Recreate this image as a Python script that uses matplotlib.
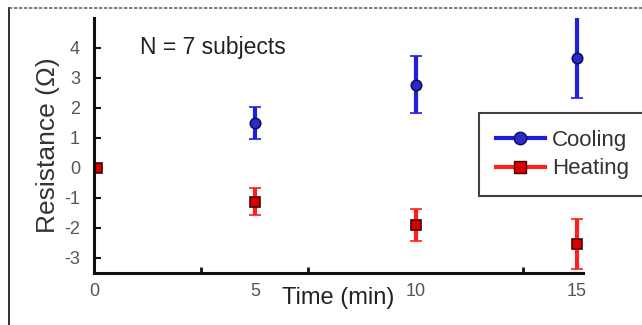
import numpy as np
import matplotlib
matplotlib.use("Agg")
import matplotlib.pyplot as plt
from matplotlib.lines import Line2D

plt.rcParams["font.family"] = ["Liberation Sans", "DejaVu Sans"]
plt.rcParams["axes.unicode_minus"] = False

# values
time_cool = [5, 10, 15]
cool_mean = [1.5, 2.77, 3.68]
cool_err = [0.53, 0.95, 1.35]

time_heat = [0.1, 5, 10, 15]
heat_mean = [0.0, -1.12, -1.9, -2.53]
heat_err = [0.0, 0.45, 0.53, 0.83]

xtick_pos = [0, 5, 10, 15]
xtick_labels = ["0", "5", "10", "15"]
xminor_pos = [10 / 3, 20 / 3, 10, 40 / 3]
ytick_pos = [-3, -2, -1, 0, 1, 2, 3, 4]

blue_bar, blue_face, blue_edge = "#1f1fe0", "#2b2bc8", "#10105a"
red_bar, red_face, red_edge = "#ff1f1f", "#d80000", "#4a0000"

fig = plt.figure(figsize=(6.42, 3.25), dpi=100)
ax = fig.add_axes([94 / 642, 1 - 273 / 325, 489 / 642, 255 / 325])

ax.errorbar(time_cool, cool_mean, yerr=cool_err, fmt="o", color=blue_bar,
            ecolor=blue_bar, elinewidth=3, capsize=4, capthick=2.5,
            markersize=7.5, markerfacecolor=blue_face, markeredgecolor=blue_edge,
            markeredgewidth=1.2, zorder=3)
ax.errorbar(time_heat, heat_mean, yerr=heat_err, fmt="s", color=red_bar,
            ecolor=red_bar, elinewidth=3, capsize=4, capthick=2.5,
            markersize=7.5, markerfacecolor=red_face, markeredgecolor=red_edge,
            markeredgewidth=1.2, zorder=3)

ax.set_xlim(0, 15.2)
ax.set_ylim(-3.5, 5.0)

for side in ["top", "right"]:
    ax.spines[side].set_visible(False)
for side in ["left", "bottom"]:
    ax.spines[side].set_linewidth(2.2)
    ax.spines[side].set_color("#111111")
    ax.spines[side].set_zorder(4)

ax.set_xticks(xtick_pos)
ax.set_xticklabels(xtick_labels)
ax.set_xticks(xminor_pos, minor=True)
ax.tick_params(axis="x", which="major", length=0, pad=7, labelsize=13,
               labelcolor="#555555")
ax.tick_params(axis="x", which="minor", direction="in", length=4, width=2,
               color="#111111")
ax.set_yticks(ytick_pos)
ax.tick_params(axis="y", direction="in", length=5, width=1.5, pad=10,
               labelsize=13, labelcolor="#555555", color="#111111")

ax.set_xlabel("Time (min)", fontsize=17, color="#222222", labelpad=-9)
ax.set_ylabel("Resistance (\u03a9)", fontsize=19, color="#333333", labelpad=3)

ax.text(1.43, 4.03, "N = 7 subjects", fontsize=16.5, color="#222222",
        va="center", ha="left")

handles = [
    Line2D([], [], color=blue_bar, lw=3, marker="o", markersize=9,
           markerfacecolor=blue_face, markeredgecolor=blue_edge),
    Line2D([], [], color=red_bar, lw=3, marker="s", markersize=9,
           markerfacecolor=red_face, markeredgecolor=red_edge),
]
leg = fig.legend(handles, ["Cooling", "Heating"], loc="upper left",
                 bbox_to_anchor=(479 / 642, 1 - 113 / 325), fontsize=16,
                 frameon=True, fancybox=False, handlelength=2.2,
                 handletextpad=0.35, borderpad=0.75, labelspacing=0.35,
                 borderaxespad=0)
leg.get_frame().set_edgecolor("#111111")
leg.get_frame().set_linewidth(1.5)
for t in leg.get_texts():
    t.set_color("#333333")

# page border fragments around the figure
fig.add_artist(Line2D([9 / 642, 9 / 642], [0, 1 - 8 / 325], color="#222222",
                      lw=1.3, transform=fig.transFigure))
fig.add_artist(Line2D([9 / 642, 1], [1 - 8 / 325, 1 - 8 / 325], color="#666666",
                      lw=1.2, ls=(0, (2, 1)), transform=fig.transFigure))

fig.savefig("out.png", dpi=100)
